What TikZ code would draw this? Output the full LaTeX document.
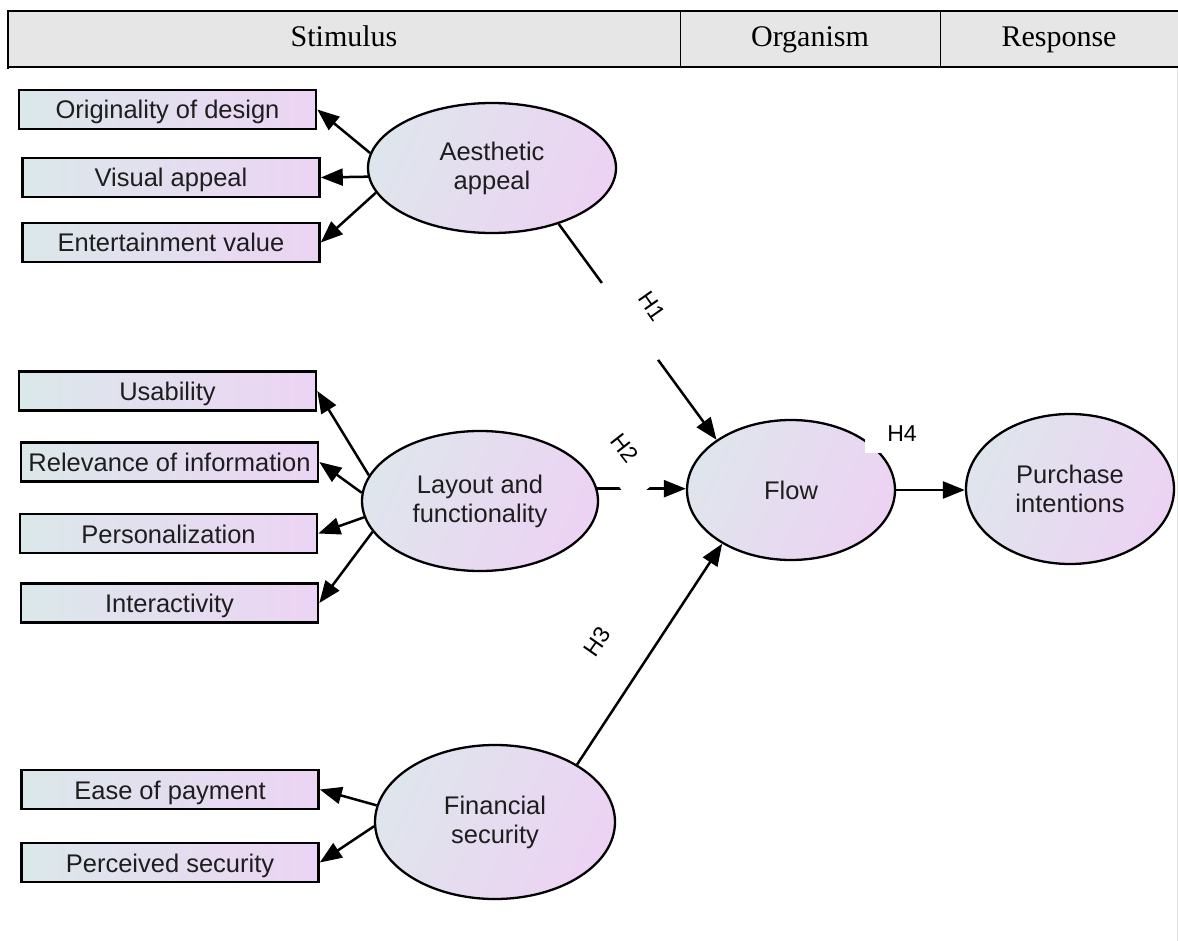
\documentclass[tikz,border=0pt]{standalone}
\usepackage{fontspec}
\setmainfont{Liberation Serif}
\newfontfamily\arialf{Liberation Sans}
\usetikzlibrary{arrows.meta,shapes.geometric,calc}
\definecolor{hdr}{HTML}{E6E6E6}
\definecolor{boxL}{HTML}{DBE8EA}
\definecolor{boxR}{HTML}{ECD4F4}
\definecolor{ellL}{HTML}{DFE5EC}
\definecolor{ellR}{HTML}{ECD3F3}
\definecolor{txt}{HTML}{1E1E1E}
\begin{document}
\begin{tikzpicture}[x=1pt,y=-1pt,
  ind/.style={draw=black, line width=2.6pt, minimum width=297pt, minimum height=39pt, inner sep=0pt,
    text height=21pt, text depth=2pt,
    left color=boxL, right color=boxR, font=\arialf\fontsize{25.5}{29}\selectfont, text=txt},
  lat/.style={ellipse, draw=black, line width=2.3pt, inner sep=0pt,
    left color=ellL, right color=ellR, shading angle=65,
    font=\arialf\fontsize{25.5}{29}\selectfont, align=center, text=txt},
  arr/.style={line width=2.5pt, -{Triangle[length=22pt,width=17pt]}},
  hlab/.style={fill=white, inner sep=0pt, font=\arialf\fontsize{23}{26}\selectfont},
  hcell/.style={font=\fontsize{30}{34}\selectfont, inner sep=0pt, anchor=base}]
\useasboundingbox (0,0) rectangle (1178,941);
% header
\fill[hdr] (8,11) rectangle (1178,67);
\draw[line width=2.4pt] (8,69) -- (8,11) -- (1178,11);
\draw[line width=1.8pt] (8,67) -- (1178,67);
\draw[line width=1pt] (680,11) -- (680,67);
\draw[line width=1pt] (940,11) -- (940,67);
\node[hcell] (hs) at (344,47) {Stimulus};
\node[hcell] (ho) at (810,47) {Organism};
\node[hcell] (hr) at (1059,47) {Response};
\draw[black!12, line width=1pt] (1177,68) -- (1177,941);
% indicators
\node[ind] (orig)  at (167.5,109.5) {Originality of design};
\node[ind] (vis)   at (171,177.5)   {Visual appeal};
\node[ind] (ent)   at (171,242.5)   {Entertainment value};
\node[ind] (usab)  at (167.5,391)   {Usability};
\node[ind] (relev) at (169.5,462)   {Relevance of information};
\node[ind] (pers)  at (168.5,533.5) {Personalization};
\node[ind] (inter) at (169.5,603)   {Interactivity};
\node[ind] (ease)  at (170,789.5)   {Ease of payment};
\node[ind] (perc)  at (170,862.5)   {Perceived security};
% latent variables
\node[lat, minimum width=248pt, minimum height=130pt] (aes)  at (492,168)  {Aesthetic\\appeal};
\node[lat, minimum width=236pt, minimum height=140pt] (lay)  at (480,501)  {Layout and\\functionality};
\node[lat, minimum width=208pt, minimum height=140pt] (flow) at (791,490)  {Flow};
\node[lat, minimum width=208pt, minimum height=150pt] (pur)  at (1070,489) {Purchase\\intentions};
\node[lat, minimum width=240pt, minimum height=154pt] (fin)  at (495,822)  {Financial\\security};
% measurement arrows
\draw[arr] (aes.173) -- (orig.east);
\draw[arr] (aes.184) -- (vis.east);
\draw[arr] (aes.192) -- (ent.east);
\draw[arr] (lay.167) -- (usab.east);
\draw[arr] (lay.176) -- (relev.east);
\draw[arr] (lay.188) -- (pers.east);
\draw[arr] (lay.196) -- (inter.east);
\draw[arr] (fin.172) -- (ease.east);
\draw[arr] (fin.182) -- (perc.east);
% structural arrows
\draw[arr] (aes.-40) -- (flow.146);
\draw[arr] (lay.6) -- (lay.6 -| flow.west);
\draw[arr] (fin.35) -- (flow.218);
\draw[arr] (flow.east) -- (flow.east -| pur.west);
% hypothesis labels
\node[hlab, rotate=-55, minimum width=95pt, minimum height=66pt] (h1) at (652,306) {H1};
\node[hlab, rotate=-52, minimum width=92pt, minimum height=57pt] (h2) at (625,448) {H2};
\node[hlab, rotate=55, minimum width=50pt, minimum height=30pt] (h3) at (597,642) {H3};
\node[hlab, minimum width=74pt, minimum height=38pt] (h4) at (902,434) {H4};
\end{tikzpicture}
\end{document}
